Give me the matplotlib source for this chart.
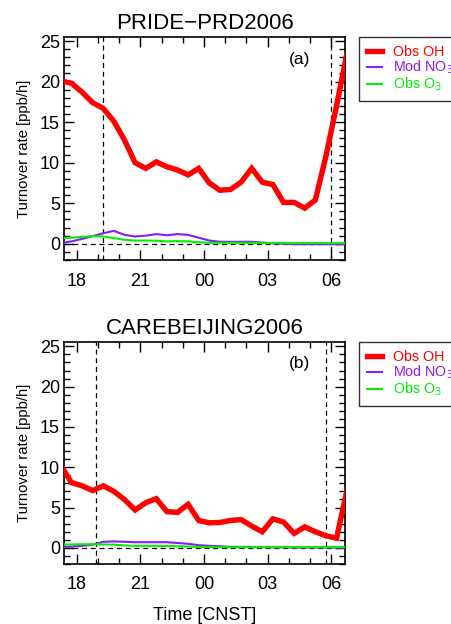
import matplotlib
matplotlib.use("Agg")
import matplotlib.pyplot as plt
from matplotlib.ticker import MultipleLocator, FixedLocator

plt.rcParams['font.family'] = ['Liberation Sans', 'DejaVu Sans']

# hours since midnight of first day (24 = 00, 30 = 06)
time_a = [17.25, 17.75, 18.25, 18.75, 19.25, 19.75, 20.25, 20.75, 21.25, 21.75,
          22.25, 22.75, 23.25, 23.75, 24.25, 24.75, 25.25, 25.75, 26.25, 26.75,
          27.25, 27.75, 28.25, 28.75, 29.25, 29.75, 30.25, 30.75]
oh_a = [20.1, 19.8, 18.7, 17.4, 16.7, 15.1, 12.8, 10.0, 9.3, 10.1,
        9.5, 9.1, 8.5, 9.3, 7.5, 6.6, 6.7, 7.6, 9.3, 7.6,
        7.3, 5.1, 5.1, 4.4, 5.4, 10.8, 17.0, 23.6]
no3_a = [0.1, 0.3, 0.6, 0.95, 1.3, 1.6, 1.1, 0.9, 1.0, 1.2,
         1.05, 1.2, 1.1, 0.75, 0.4, 0.25, 0.25, 0.25, 0.25, 0.15,
         0.05, 0.0, -0.05, -0.05, -0.05, -0.05, -0.05, -0.05]
o3_a = [0.7, 0.75, 0.85, 0.95, 0.9, 0.7, 0.5, 0.4, 0.4, 0.38,
        0.3, 0.33, 0.3, 0.2, 0.12, 0.12, 0.12, 0.12, 0.1, 0.1,
        0.1, 0.1, 0.08, 0.08, 0.08, 0.08, 0.08, 0.08]

time_b = time_a
oh_b = [10.2, 8.1, 7.7, 7.1, 7.7, 7.0, 6.0, 4.7, 5.6, 6.1,
        4.5, 4.4, 5.4, 3.4, 3.1, 3.15, 3.4, 3.5, 2.7, 2.0,
        3.6, 3.2, 1.8, 2.6, 2.0, 1.5, 1.2, 7.2]
no3_b = [0.1, 0.15, 0.25, 0.4, 0.75, 0.8, 0.75, 0.7, 0.7, 0.7,
         0.7, 0.6, 0.5, 0.33, 0.25, 0.2, 0.12, 0.12, 0.1, 0.08,
         0.08, 0.06, 0.05, 0.04, 0.04, 0.04, 0.04, 0.04]
o3_b = [0.4, 0.42, 0.45, 0.45, 0.42, 0.4, 0.3, 0.25, 0.25, 0.25,
        0.22, 0.2, 0.16, 0.12, 0.1, 0.08, 0.08, 0.08, 0.08, 0.08,
        0.08, 0.08, 0.08, 0.08, 0.08, 0.08, 0.08, 0.08]

sun_a = [19.23, 30.0]
sun_b = [18.9, 29.77]

titles = ["PRIDE\u2212PRD2006", "CAREBEIJING2006"]
panel_labels = ["(a)", "(b)"]
tick_hours = [18, 21, 24, 27, 30]
tick_labels = ["18", "21", "00", "03", "06"]
series_names = ["Obs OH", "Mod NO$_3$", "Obs O$_3$"]
RED, PURPLE, GREEN = "#ff0000", "#8c1aff", "#00ee00"

fig = plt.figure(figsize=(4.51, 6.24), dpi=100)
positions = [[0.142, 0.5833, 0.623, 0.3574], [0.142, 0.0962, 0.623, 0.3552]]
data = [(time_a, oh_a, no3_a, o3_a, sun_a), (time_b, oh_b, no3_b, o3_b, sun_b)]
label_y = [0.901, 0.905]

for i, (pos, (t, oh, no3, o3, sun)) in enumerate(zip(positions, data)):
    ax = fig.add_axes(pos)
    ax.set_xlim(17.4, 30.65)
    ax.set_ylim(-2, 25.5)
    ax.axhline(0, color="black", lw=0.9, ls=(0, (4, 3)), zorder=1)
    for s in sun:
        ax.axvline(s, color="black", lw=0.9, ls=(0, (4, 3)), zorder=1)
    l1, = ax.plot(t, oh, color=RED, lw=3.9, solid_joinstyle="miter", zorder=4)
    l2, = ax.plot(t, no3, color=PURPLE, lw=1.5, zorder=3)
    l3, = ax.plot(t, o3, color=GREEN, lw=1.5, zorder=3)
    ax.set_title(titles[i], fontsize=16, pad=6)
    ax.set_ylabel("Turnover rate [ppb/h]", fontsize=10.7, labelpad=6)
    ax.xaxis.set_major_locator(FixedLocator(tick_hours))
    ax.set_xticklabels(tick_labels)
    ax.xaxis.set_minor_locator(MultipleLocator(1))
    ax.yaxis.set_major_locator(MultipleLocator(5))
    ax.yaxis.set_minor_locator(MultipleLocator(1))
    ax.tick_params(which="both", direction="in", top=True, right=True,
                   labelsize=13, width=1.0)
    ax.tick_params(axis="x", which="major", length=7, pad=9)
    ax.tick_params(axis="y", which="major", length=7, pad=3)
    ax.tick_params(which="minor", length=4)
    for sp in ax.spines.values():
        sp.set_linewidth(1.2)
    ax.text(0.838, label_y[i], panel_labels[i], transform=ax.transAxes,
            fontsize=12.5, ha="center", va="center")
    leg = ax.legend([l1, l2, l3], series_names, loc="upper left",
                    bbox_to_anchor=(1.05, 1.0), fontsize=10.3, frameon=True,
                    fancybox=False, edgecolor="black", handlelength=1.05,
                    handletextpad=0.75, borderpad=0.55, labelspacing=-0.02,
                    borderaxespad=0)
    leg.get_frame().set_linewidth(1.0)
    for txt, c in zip(leg.get_texts(), [RED, PURPLE, GREEN]):
        txt.set_color(c)
    if i == 1:
        ax.set_xlabel("Time [CNST]", fontsize=13, labelpad=10)

fig.savefig("out.png", dpi=100)
